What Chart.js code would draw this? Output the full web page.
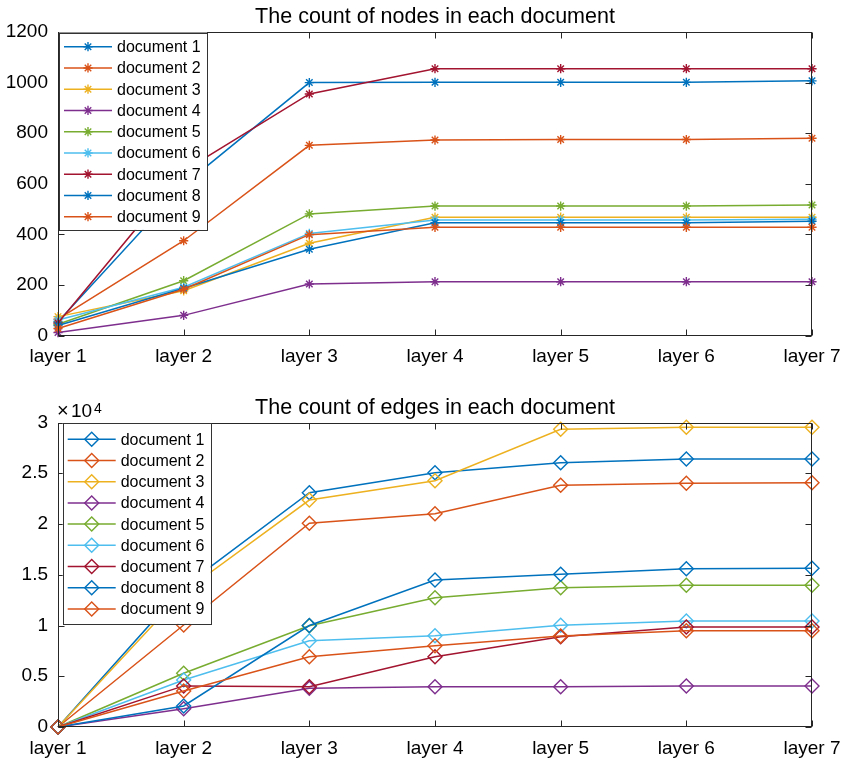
<!DOCTYPE html>
<html>
<head>
<meta charset="utf-8">
<script src="https://cdn.jsdelivr.net/npm/chart.js@4/dist/chart.umd.min.js"></script>
<style>
  html, body { margin: 0; padding: 0; background: #ffffff; }
  #wrap { position: relative; width: 842px; height: 761px; background: #ffffff; }
  #wrap canvas { position: absolute; left: 0; }
</style>
</head>
<body>
<div id="wrap">
  <canvas id="nodesChart" width="842" height="380" style="top:0px"></canvas>
  <canvas id="edgesChart" width="842" height="381" style="top:380px"></canvas>
</div>
<script>
// Categories and series labels
const layers = ['layer 1', 'layer 2', 'layer 3', 'layer 4', 'layer 5', 'layer 6', 'layer 7'];
const docNames = ['document 1', 'document 2', 'document 3', 'document 4', 'document 5',
                  'document 6', 'document 7', 'document 8', 'document 9'];

// Node counts per layer, one array per document
const nodesDoc1 = [55, 595, 1000, 1001, 1001, 1001, 1007];
const nodesDoc2 = [65, 375, 752, 773, 775, 775, 780];
const nodesDoc3 = [75, 177, 365, 468, 468, 468, 468];
const nodesDoc4 = [12, 80, 204, 213, 213, 213, 213];
const nodesDoc5 = [45, 217, 481, 512, 512, 512, 516];
const nodesDoc6 = [62, 191, 404, 457, 457, 457, 460];
const nodesDoc7 = [50, 650, 955, 1055, 1055, 1055, 1055];
const nodesDoc8 = [40, 187, 341, 446, 446, 446, 452];
const nodesDoc9 = [28, 183, 399, 428, 428, 428, 428];

// Edge counts per layer, one array per document
const edgesDoc1 = [0, 13800, 23080, 25050, 26040, 26400, 26400];
const edgesDoc2 = [0, 10050, 20070, 21010, 23810, 24010, 24070];
const edgesDoc3 = [0, 13300, 22360, 24270, 29330, 29530, 29530];
const edgesDoc4 = [0, 1800, 3810, 3970, 3970, 4040, 4040];
const edgesDoc5 = [0, 5290, 9980, 12740, 13720, 13960, 13960];
const edgesDoc6 = [0, 4630, 8500, 8990, 10020, 10440, 10440];
const edgesDoc7 = [0, 4050, 3970, 6930, 8900, 9850, 9850];
const edgesDoc8 = [0, 2070, 10000, 14480, 15040, 15600, 15640];
const edgesDoc9 = [0, 3550, 6930, 8010, 8970, 9490, 9490];

// Axis tick settings
const nodeTickMax = 1200;
const nodeTickStep = 200;
const edgeTickMax = 30000;
const edgeTickStep = 5000;
const edgeExponent = 4;

const nodeSeries = [nodesDoc1, nodesDoc2, nodesDoc3, nodesDoc4, nodesDoc5, nodesDoc6, nodesDoc7, nodesDoc8, nodesDoc9];
const edgeSeries = [edgesDoc1, edgesDoc2, edgesDoc3, edgesDoc4, edgesDoc5, edgesDoc6, edgesDoc7, edgesDoc8, edgesDoc9];

// Classic colour order, cycling after seven lines
const palette = ['#0072BD', '#D95319', '#EDB120', '#7E2F8E', '#77AC30', '#4DBEEE', '#A2142F', '#0072BD', '#D95319'];

const FONT = "'Liberation Sans', Arial, Helvetica, sans-serif";
const INK = '#262626';

function makeDatasets(series, marker) {
  return series.map((values, i) => ({
    label: docNames[i],
    data: values,
    borderColor: palette[i],
    backgroundColor: palette[i],
    borderWidth: 1.5,
    tension: 0,
    pointStyle: marker.style,
    pointRadius: marker.radius,
    pointHoverRadius: marker.radius,
    pointBorderWidth: marker.border,
    pointBorderColor: palette[i],
    pointBackgroundColor: marker.filled ? palette[i] : 'rgba(0,0,0,0)',
    order: series.length - i,   // later documents are drawn on top
    clip: false
  }));
}

// Axes box with inward ticks, title, exponent note and boxed legend
const framePlugin = {
  id: 'figureFrame',
  afterDraw(chart, args, opts) {
    const ctx = chart.ctx;
    const area = chart.chartArea;
    const xs = chart.scales.x, ys = chart.scales.y;
    const tick = 6;
    ctx.save();
    ctx.strokeStyle = INK;
    ctx.lineWidth = 1;
    const L = Math.round(area.left) + 0.5, R = Math.round(area.right) - 0.5;
    const T = Math.round(area.top) + 0.5, B = Math.round(area.bottom) - 0.5;
    ctx.strokeRect(L, T, R - L, B - T);
    ctx.beginPath();
    for (let i = 0; i < xs.ticks.length; i++) {
      const px = Math.round(xs.getPixelForTick(i)) + 0.5;
      ctx.moveTo(px, B); ctx.lineTo(px, B - tick);
      ctx.moveTo(px, T); ctx.lineTo(px, T + tick);
    }
    ys.ticks.forEach(t => {
      const py = Math.round(ys.getPixelForValue(t.value)) + 0.5;
      ctx.moveTo(L, py); ctx.lineTo(L + tick, py);
      ctx.moveTo(R, py); ctx.lineTo(R - tick, py);
    });
    ctx.stroke();

    // title
    ctx.fillStyle = '#000000';
    ctx.font = `21.5px ${FONT}`;
    ctx.textAlign = 'center';
    ctx.textBaseline = 'alphabetic';
    ctx.fillText(opts.title, (area.left + area.right) / 2, opts.titleBaseline);

    // exponent note above the value axis
    if (opts.exponent) {
      ctx.textAlign = 'left';
      ctx.font = `20px ${FONT}`;
      ctx.fillText('\u00d7', area.left - 1, area.top - 6);
      ctx.font = `19px ${FONT}`;
      ctx.fillText('10', area.left + 13, area.top - 6);
      ctx.font = `14px ${FONT}`;
      ctx.fillText(String(opts.exponent), area.left + 36, area.top - 10);
    }

    // legend
    const lg = opts.legend;
    const rows = chart.data.datasets.length;
    const boxH = lg.firstRow + (rows - 1) * lg.rowStep + lg.firstRow - 1;
    ctx.fillStyle = '#ffffff';
    ctx.fillRect(lg.x, lg.y, lg.width, boxH);
    ctx.strokeStyle = '#333333';
    ctx.lineWidth = 1;
    ctx.strokeRect(Math.round(lg.x) + 0.5, Math.round(lg.y) + 0.5, Math.round(lg.width), Math.round(boxH));
    ctx.font = `16px ${FONT}`;
    ctx.textBaseline = 'middle';
    ctx.textAlign = 'left';
    chart.data.datasets.forEach((ds, i) => {
      const y = lg.y + lg.firstRow + i * lg.rowStep;
      ctx.strokeStyle = ds.borderColor;
      ctx.lineWidth = ds.borderWidth;
      ctx.beginPath();
      ctx.moveTo(lg.x + 5, y);
      ctx.lineTo(lg.x + 53, y);
      ctx.stroke();
      ctx.fillStyle = ds.pointBackgroundColor;
      ctx.strokeStyle = ds.pointBorderColor;
      ctx.lineWidth = ds.pointBorderWidth;
      Chart.helpers.drawPoint(ctx, {
        pointStyle: ds.pointStyle, radius: ds.pointRadius,
        borderWidth: ds.pointBorderWidth, rotation: 0
      }, lg.x + 29, y);
      ctx.fillStyle = '#000000';
      ctx.fillText(ds.label, lg.x + 58, y + 1);
    });
    ctx.restore();
  }
};

function baseOptions(cfg) {
  return {
    responsive: false,
    animation: false,
    devicePixelRatio: 1,
    events: [],
    layout: { padding: { top: cfg.top, right: 30, left: 0, bottom: 0 } },
    plugins: {
      legend: { display: false },
      tooltip: { enabled: false },
      title: { display: false },
      figureFrame: cfg.frame
    },
    scales: {
      x: {
        type: 'category',
        offset: false,
        grid: { display: false, drawTicks: false },
        border: { display: false },
        ticks: { color: '#000000', font: { family: FONT, size: 19 }, padding: 10, maxRotation: 0, autoSkip: false },
        afterFit(scale) {
          scale.height = cfg.xHeight;
          scale.paddingLeft = 0;
          scale.paddingRight = 0;
        }
      },
      y: {
        min: 0,
        max: cfg.yMax,
        grid: { display: false, drawTicks: false },
        border: { display: false },
        ticks: {
          stepSize: cfg.yStep,
          color: '#000000',
          font: { family: FONT, size: 19 },
          padding: 10,
          callback: cfg.yFormat
        },
        afterFit(scale) {
          scale.width = 58;
          scale.paddingTop = 0;
          scale.paddingBottom = 0;
        }
      }
    }
  };
}

new Chart(document.getElementById('nodesChart'), {
  type: 'line',
  data: { labels: layers, datasets: makeDatasets(nodeSeries, { style: 'star', radius: 4.6, border: 1.4, filled: true }) },
  options: baseOptions({
    top: 32, xHeight: 44.4, yMax: nodeTickMax, yStep: nodeTickStep,
    yFormat: v => String(v),
    frame: {
      title: 'The count of nodes in each document',
      titleBaseline: 23,
      legend: { x: 59, y: 32.5, width: 148, firstRow: 14.2, rowStep: 21.25 }
    }
  }),
  plugins: [framePlugin]
});

new Chart(document.getElementById('edgesChart'), {
  type: 'line',
  data: { labels: layers, datasets: makeDatasets(edgeSeries, { style: 'rectRot', radius: 7, border: 1.4, filled: false }) },
  options: baseOptions({
    top: 42.5, xHeight: 34, yMax: edgeTickMax, yStep: edgeTickStep,
    yFormat: v => String(v / Math.pow(10, edgeExponent)),
    frame: {
      title: 'The count of edges in each document',
      titleBaseline: 34,
      exponent: edgeExponent,
      legend: { x: 62.7, y: 43.3, width: 148, firstRow: 16, rowStep: 21.2 }
    }
  }),
  plugins: [framePlugin]
});
</script>
</body>
</html>
